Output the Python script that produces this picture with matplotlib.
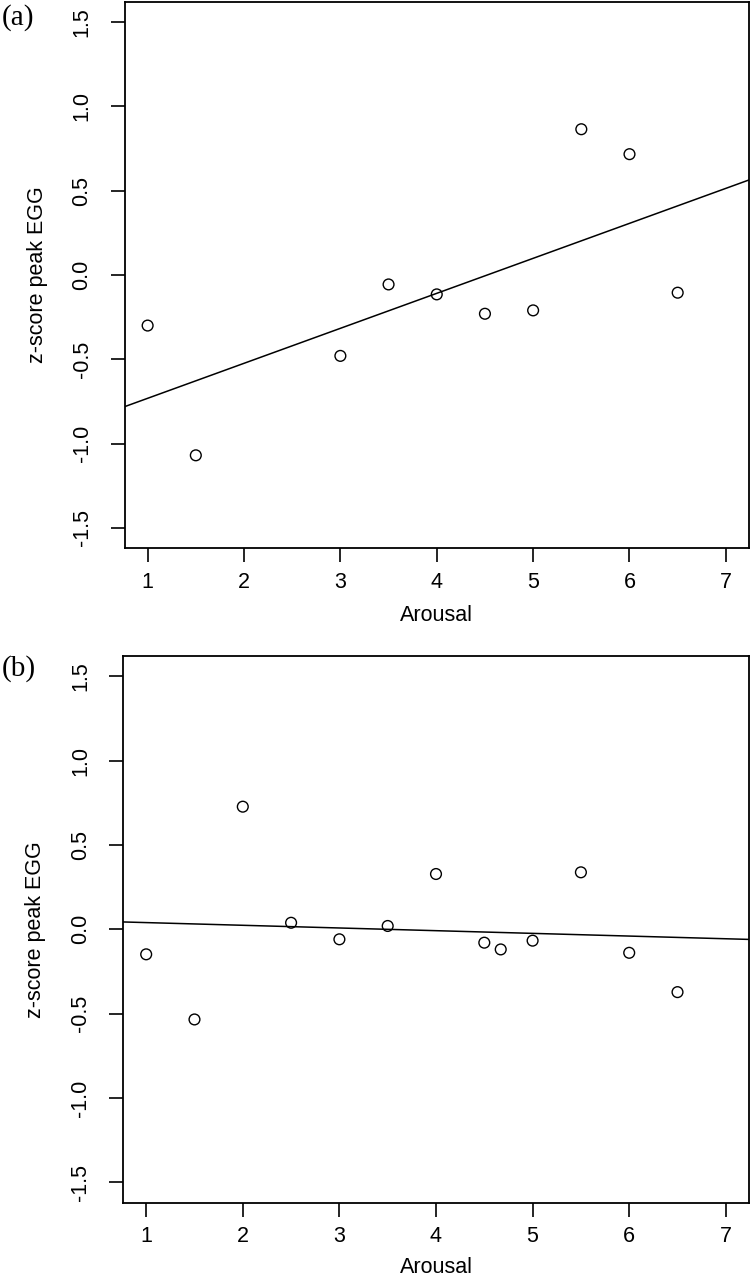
import numpy as np
import matplotlib
matplotlib.use("Agg")
import matplotlib.pyplot as plt

# Panel (a) data
xa = [1, 1.5, 3, 3.5, 4, 4.5, 5, 5.5, 6, 6.5]
ya = [-0.30, -1.07, -0.48, -0.056, -0.115, -0.23, -0.21, 0.865, 0.717, -0.105]

# Panel (b) data
xb = [1, 1.5, 2, 2.5, 3, 3.5, 4, 4.5, 4.67, 5, 5.5, 6, 6.5]
yb = [-0.148, -0.534, 0.727, 0.039, -0.059, 0.02, 0.328, -0.079, -0.119, -0.067, 0.338, -0.139, -0.372]

xticks = [1, 2, 3, 4, 5, 6, 7]
yticks = [-1.5, -1.0, -0.5, 0.0, 0.5, 1.0, 1.5]
ytick_labels = ["-1.5", "-1.0", "-0.5", "0.0", "0.5", "1.0", "1.5"]
xlabel = "Arousal"
ylabel = "z-score peak EGG"
panel_labels = ["(a)", "(b)"]

sans = ["Liberation Sans Narrow", "Liberation Sans", "DejaVu Sans"]
serif = ["Liberation Serif", "DejaVu Serif"]

fig = plt.figure(figsize=(7.51, 12.80), dpi=100)

axes_rects = [
    [124.5 / 751, (1280 - 548) / 1280, (749 - 124.5) / 751, 546 / 1280],
    [123.0 / 751, (1280 - 1202.7) / 1280, (749 - 123.0) / 751, 546.7 / 1280],
]
label_y = [1 - 18 / 1280, 1 - 669 / 1280]
xlabel_pads = [9, 7]

for rect, (xs, ys), plab, ly, xpad in zip(axes_rects, [(xa, ya), (xb, yb)], panel_labels, label_y, xlabel_pads):
    ax = fig.add_axes(rect)
    ax.scatter(xs, ys, s=60, facecolors="none", edgecolors="black", linewidths=1.0, zorder=3)
    slope, intercept = np.polyfit(xs, ys, 1)
    ax.axline((0, intercept), slope=slope, color="black", linewidth=1.1)
    ax.set_xlim(0.76, 7.24)
    ax.set_ylim(-1.62, 1.62)
    ax.set_xticks(xticks)
    ax.set_xticklabels([str(t) for t in xticks], family=sans, fontsize=15.5)
    ax.set_yticks(yticks)
    ax.set_yticklabels(ytick_labels, family=sans, fontsize=15.5, rotation=90, va="center")
    ax.tick_params(axis="both", direction="out", length=10, width=1.2, color="black")
    ax.tick_params(axis="x", pad=7)
    ax.tick_params(axis="y", pad=13)
    for sp in ax.spines.values():
        sp.set_linewidth(1.3)
    ax.set_xlabel(xlabel, family=sans, fontsize=15.5, labelpad=xpad)
    ax.set_ylabel(ylabel, family=sans, fontsize=15.5, labelpad=17)
    fig.text(2 / 751, ly, plab, family=serif, fontsize=21, ha="left", va="center")

fig.savefig("out.png", dpi=100, facecolor="white")
